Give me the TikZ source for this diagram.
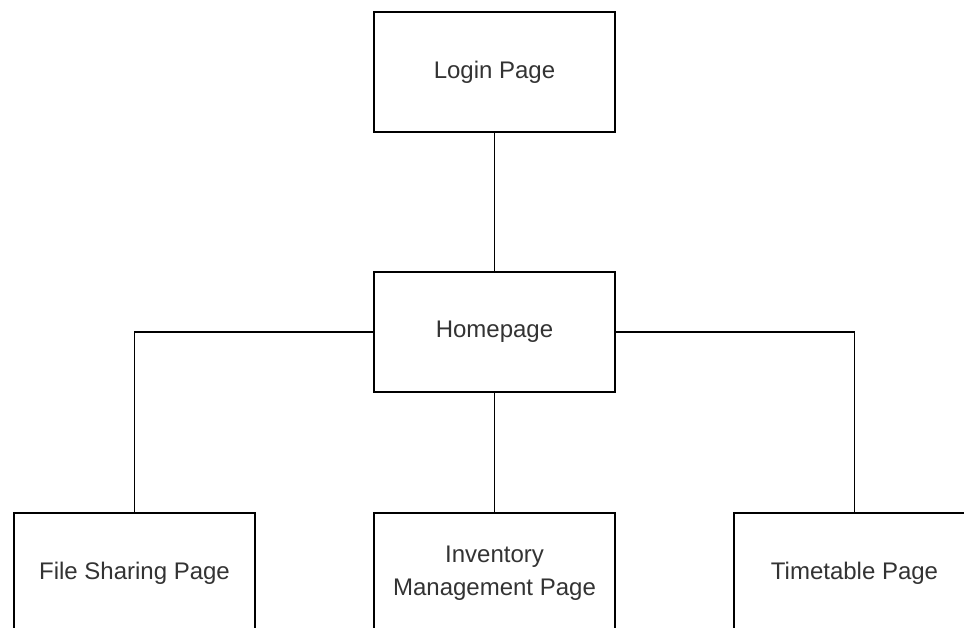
\documentclass[tikz,border=0pt]{standalone}
\usepackage{fontspec}
\setmainfont{Liberation Sans}
\usepackage{tikz}

\begin{document}
\begin{tikzpicture}[x=0.75pt,y=-0.75pt,line width=1.3pt,-]
            \tikzstyle{page}=[rectangle,draw=black,fill=white,minimum width=180.75pt,minimum height=90pt,inner sep=0pt,align=center,font=\fontsize{18}{24.5}\selectfont,text=black!80]
            \clip (0,0) rectangle (964,628);
            \useasboundingbox (0,0) rectangle (964,628);
                    \node[page] (P-login) at (494.5,72){Login Page};
                    \node[page] (P-home) at (494.5,332){Homepage};
                    \node[page] (P-file) at (134.5,573){File Sharing Page};
                    \node[page] (P-inv) at (494.5,573){Inventory\\Management Page};
                    \node[page] (P-time) at (854.5,573){Timetable Page};

                \draw (P-login) -- (P-home);
                \draw (P-home) -- (P-inv);
                \foreach \from/\to in {west/file, east/time}
                    \draw (P-home.\from) -| (P-\to.north);
        \end{tikzpicture}
\end{document}
